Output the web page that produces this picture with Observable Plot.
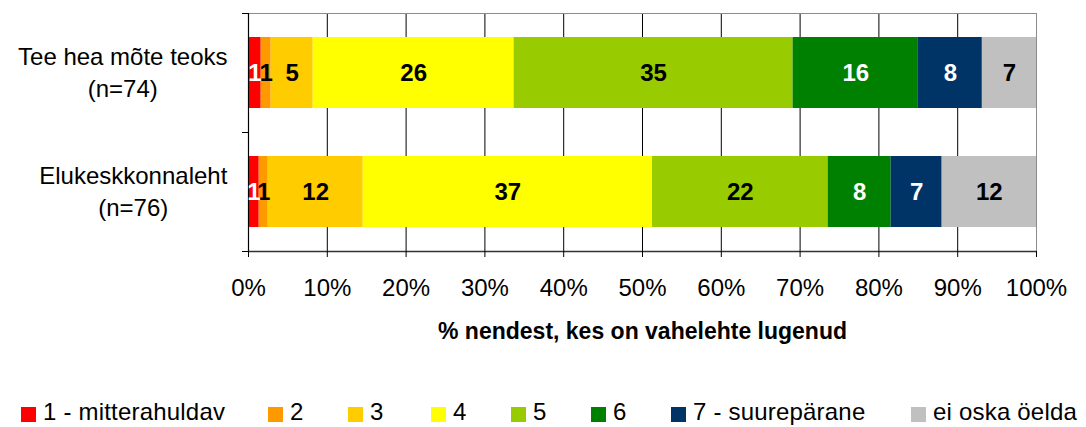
<!DOCTYPE html>
<html>
<head>
<meta charset="utf-8">
<script src="https://cdn.jsdelivr.net/npm/d3@7"></script>
<script src="https://cdn.jsdelivr.net/npm/@observablehq/plot@0.6"></script>
<style>
  html, body { margin: 0; padding: 0; background: #fff; }
  body { position: relative; width: 1086px; height: 427px; overflow: hidden;
         font-family: "Liberation Sans", Arial, sans-serif; }
  #chart { position: absolute; left: 0; top: 0; }
  #legend { position: absolute; left: 21px; top: 400px; display: flex; font-size: 24px;
            line-height: 24px; color: #000; white-space: nowrap; letter-spacing: 0.2px; }
  .item { display: flex; align-items: flex-start; }
  .sw { width: 15px; height: 15px; margin-top: 7px; margin-right: 7px; flex: none; }
</style>
</head>
<body>
<div id="chart"></div>
<div id="legend"></div>
<script>
// ---- data ----
const categories = ["Tee hea mõte teoks\n(n=74)", "Elukeskkonnaleht\n(n=76)"];
const ratings = ["1 - mitterahuldav", "2", "3", "4", "5", "6", "7 - suurepärane", "ei oska öelda"];
const colors = ["#FF0000", "#FF9900", "#FFCC00", "#FFFF00", "#99CC00", "#008000", "#003366", "#C0C0C0"];
// segment widths (percent)
const valuesTee = [1.61, 1.27, 5.33, 25.5, 35.4, 15.9, 8.12, 6.87];
const valuesElu = [1.36, 1.14, 12.06, 36.7, 22.3, 8.0, 6.47, 11.97];
// printed labels
const labelsTee = [1, 1, 5, 26, 35, 16, 8, 7];
const labelsElu = [1, 1, 12, 37, 22, 8, 7, 12];
const xTicks = [0, 10, 20, 30, 40, 50, 60, 70, 80, 90, 100];
const whiteLabelRatings = ["1 - mitterahuldav", "6", "7 - suurepärane"];
const axisTitle = "% nendest, kes on vahelehte lugenud";

const seriesValues = [valuesTee, valuesElu];
const seriesLabels = [labelsTee, labelsElu];
const rows = [];
categories.forEach((c, ci) => ratings.forEach((r, ri) => {
  rows.push({category: c, rating: r, value: seriesValues[ci][ri], label: String(seriesLabels[ci][ri])});
}));

// ---- layout ----
const W = 1086, H = 390;
const mTop = 13, mBottom = H - 251, mLeft = 248, mRight = 50;
const step = (H - mTop - mBottom) / categories.length;
const font = "Liberation Sans, Arial, Helvetica, sans-serif";

const stackOpts = {x: "value", y: "category", z: "rating"};

const plot = Plot.plot({
  width: W,
  height: H,
  marginTop: mTop,
  marginBottom: mBottom,
  marginLeft: mLeft,
  marginRight: mRight,
  style: {fontFamily: font, fontSize: "24px", color: "#000", background: "#fff"},
  x: {domain: [0, 100]},
  y: {domain: categories, paddingInner: 0.4, paddingOuter: 0.2},
  color: {domain: ratings, range: colors},
  marks: [
    Plot.gridX({ticks: xTicks, stroke: "#000", strokeOpacity: 1, strokeWidth: 1}),
    Plot.barX(rows, Plot.stackX({...stackOpts, fill: "rating"})),
    Plot.frame({stroke: "#8c8c8c", strokeWidth: 1}),
    Plot.ruleX([xTicks[0]], {stroke: "#000", strokeWidth: 1.2}),
    Plot.ruleY([categories[categories.length - 1]], {dy: step / 2, stroke: "#333", strokeWidth: 1.6}),
    Plot.text(rows, Plot.filter(d => !whiteLabelRatings.includes(d.rating),
      Plot.stackX({...stackOpts, text: "label", fill: "#000", fontWeight: "bold", fontSize: 24}))),
    Plot.text(rows, Plot.filter(d => whiteLabelRatings.includes(d.rating),
      Plot.stackX({...stackOpts, text: "label", fill: "#fff", fontWeight: "bold", fontSize: 24}))),
    Plot.axisX({ticks: xTicks, tickFormat: d => d + "%", tickSize: 6, tickPadding: 21,
      fontSize: 24, label: null, stroke: "#000"}),
    Plot.axisY({ticks: categories, tickSize: 6, tickFormat: () => "", dy: -step / 2, label: null, stroke: "#000"}),
    Plot.axisY({ticks: [categories[categories.length - 1]], tickSize: 6, tickFormat: () => "", dy: step / 2, label: null, stroke: "#000"}),
    Plot.text(categories, {y: d => d, text: d => d, frameAnchor: "left", dx: -21, dy: -2.5,
      textAnchor: "end", lineHeight: 1.33, fontSize: 24, fill: "#000", letterSpacing: 0.2}),
    Plot.text([axisTitle], {text: d => d, frameAnchor: "bottom", dy: 80, fontWeight: "bold",
      fontSize: 23, fill: "#000", lineAnchor: "middle"})
  ]
});

document.getElementById("chart").append(plot);

// center each line of the (two-line) category labels on the label block
plot.querySelectorAll("text").forEach(t => {
  const spans = t.querySelectorAll("tspan");
  if (spans.length < 2) return;
  const w = t.getBBox().width;
  t.setAttribute("text-anchor", "middle");
  t.style.textAnchor = "middle";
  spans.forEach(s => s.setAttribute("x", -w / 2));
});

// legend
const legendWidths = [247, 80, 83, 80, 80, 80, 240, 175];
const legend = document.getElementById("legend");
ratings.forEach((r, i) => {
  const item = document.createElement("div");
  item.className = "item";
  item.style.width = legendWidths[i] + "px";
  const sw = document.createElement("div");
  sw.className = "sw";
  sw.style.background = colors[i];
  const tx = document.createElement("span");
  tx.textContent = r;
  item.append(sw, tx);
  legend.append(item);
});
</script>
</body>
</html>
